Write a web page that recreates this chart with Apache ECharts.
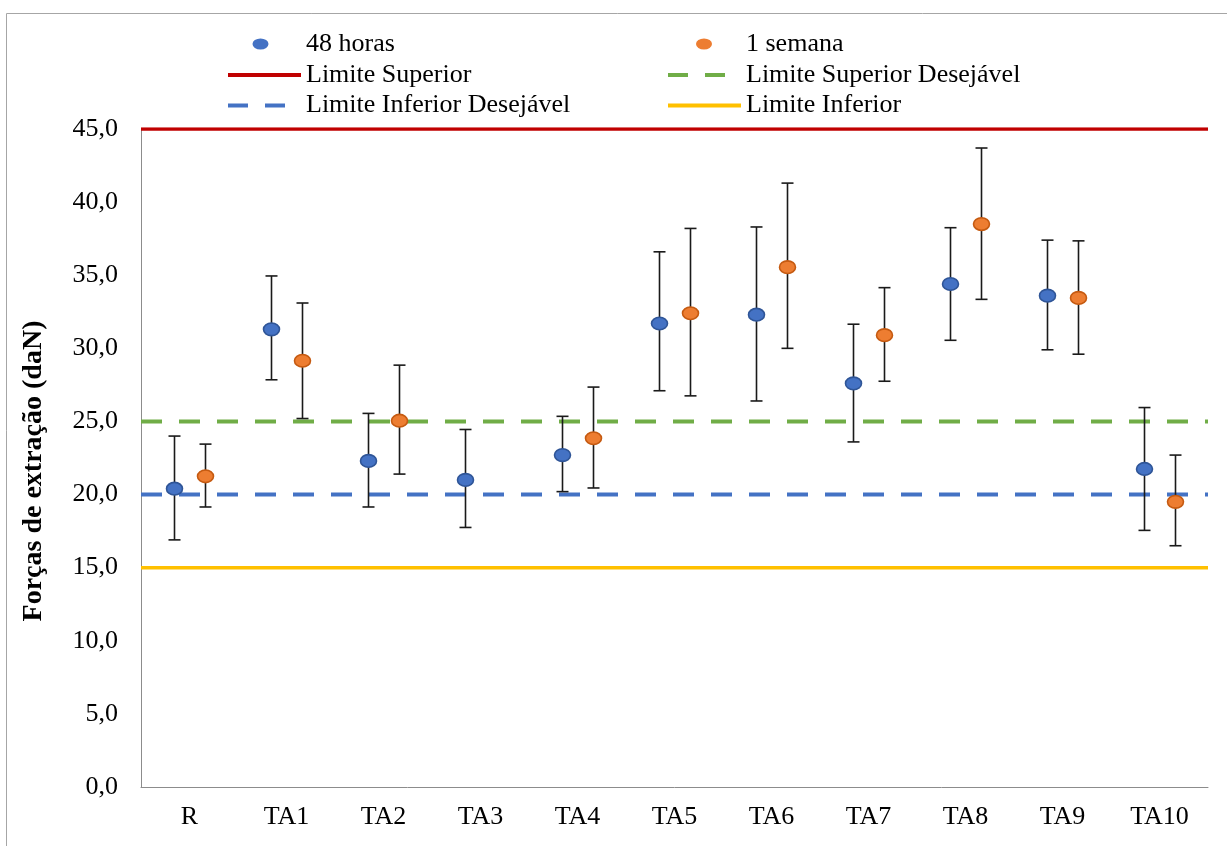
<!DOCTYPE html>
<html>
<head>
<meta charset="utf-8">
<script src="https://cdn.jsdelivr.net/npm/echarts@6/dist/echarts.min.js"></script>
<style>
  html, body { margin: 0; padding: 0; background: #fff; }
  #chart { width: 1227px; height: 846px; }
</style>
</head>
<body>
<div id="chart"></div>
<script>
// Categories (treatments)
var categories = ['R', 'TA1', 'TA2', 'TA3', 'TA4', 'TA5', 'TA6', 'TA7', 'TA8', 'TA9', 'TA10'];

// Extraction force after 48 hours (daN): mean, lower and upper error bounds
var mean48 = [20.4, 31.3, 22.3, 21.0, 22.7, 31.7, 32.3, 27.6, 34.4, 33.6, 21.75];
var low48  = [16.9, 27.85, 19.15, 17.75, 20.2, 27.1, 26.4, 23.6, 30.55, 29.9, 17.55];
var high48 = [24.0, 34.95, 25.55, 24.45, 25.35, 36.6, 38.3, 31.65, 38.25, 37.4, 25.95];

// Extraction force after 1 week (daN); TA3 has no measurement
var meanWeek = [21.25, 29.15, 25.05, null, 23.85, 32.4, 35.55, 30.9, 38.5, 33.45, 19.5];
var lowWeek  = [19.15, 25.2, 21.4, null, 20.45, 26.75, 30.0, 27.75, 33.35, 29.6, 16.5];
var highWeek = [23.45, 33.1, 28.85, null, 27.35, 38.2, 41.3, 34.15, 43.7, 37.35, 22.7];

// Reference limits (daN)
var limitSuperior = 45;
var limitSupDesejavel = 25;
var limitInfDesejavel = 20;
var limitInferior = 15;

// Y axis ticks
var yMin = 0, yMax = 45, yStep = 5;

var FONT = '"Liberation Serif", "Times New Roman", serif';

var BLUE = '#4472C4', BLUE_EDGE = '#2F5597';
var ORANGE = '#ED7D31', ORANGE_EDGE = '#C55A11';

function buildData(means, lows, highs) {
  var out = [];
  for (var i = 0; i < means.length; i++) {
    if (means[i] == null) continue;
    out.push([i, means[i], lows[i], highs[i]]);
  }
  return out;
}

// Draws a point with its vertical error bar, shifted inside the category band
function pointWithError(shiftFrac, fill, stroke) {
  return function (params, api) {
    var i = api.value(0);
    var band = api.size([1, 0])[0];
    var dx = band * shiftFrac;
    var c = api.coord([i, api.value(1)]);
    var lo = api.coord([i, api.value(2)]);
    var hi = api.coord([i, api.value(3)]);
    var x = Math.round(c[0] + dx) + 0.5;
    var cap = 6;
    var barStyle = { stroke: '#1a1a1a', lineWidth: 1.6 };
    return {
      type: 'group',
      children: [
        { type: 'line', shape: { x1: x, y1: lo[1], x2: x, y2: hi[1] }, style: barStyle },
        { type: 'line', shape: { x1: x - cap, y1: hi[1], x2: x + cap, y2: hi[1] }, style: barStyle },
        { type: 'line', shape: { x1: x - cap, y1: lo[1], x2: x + cap, y2: lo[1] }, style: barStyle },
        { type: 'ellipse', shape: { cx: x, cy: c[1], rx: 8, ry: 6.3 },
          style: { fill: fill, stroke: stroke, lineWidth: 1.6 } }
      ]
    };
  };
}

function limitLine(name, value, color, dashed) {
  return {
    name: name,
    type: 'line',
    xAxisIndex: 1,
    data: [[0, value], [1, value]],
    symbol: 'none',
    silent: true,
    lineStyle: { color: color, width: dashed ? 4 : 3.5, type: dashed ? [21, 17] : 'solid' },
    itemStyle: { color: color },
    z: 1
  };
}

// Legend icon shapes; the zero-area strokes at the ends only fix the icon box
var ICON_SOLID = 'path://M0,0h73v4h-73z';
var ICON_DASHED = 'path://M0,0h20v4h-20z M37,0h20v4h-20z M73,0L73,4';
function dotIcon(w) {
  var c = w / 2;
  return 'path://M' + (c - 8) + ',5.5a8,5.5 0 1,0 16,0a8,5.5 0 1,0 -16,0z M0,0L0,11 M' + w + ',0L' + w + ',11';
}

function legendAt(name, left, top, icon, width, height, color) {
  return {
    data: [{ name: name, icon: icon, itemStyle: { color: color, borderWidth: 0 } }],
    left: left,
    top: top,
    itemWidth: width,
    itemHeight: height,
    symbolKeepAspect: false,
    itemGap: 0,
    padding: 0,
    selectedMode: false,
    textStyle: { fontFamily: FONT, fontSize: 26, color: '#000' }
  };
}

var chart = echarts.init(document.getElementById('chart'), null, { renderer: 'canvas' });

var option = {
  animation: false,
  backgroundColor: '#fff',
  graphic: [{
    type: 'rect',
    shape: { x: 6.5, y: 13.5, width: 1240, height: 850 },
    style: { fill: 'none', stroke: '#a6a6a6', lineWidth: 1 },
    silent: true
  }],
  legend: [
    legendAt('48 horas', 220, 31, dotIcon(81), 81, 11, BLUE),
    legendAt('1 semana', 667, 31, dotIcon(74), 74, 11, ORANGE),
    legendAt('Limite Superior', 228, 62, ICON_SOLID, 73, 4, '#C00000'),
    legendAt('Limite Superior Desejável', 668, 62, ICON_DASHED, 73, 4, '#70AD47'),
    legendAt('Limite Inferior Desejável', 228, 92.5, ICON_DASHED, 73, 4, BLUE),
    legendAt('Limite Inferior', 668, 92.5, ICON_SOLID, 73, 4, '#FFC000')
  ],
  grid: { left: 141, right: 19, top: 129, bottom: 59, containLabel: false },
  xAxis: [{
    type: 'category',
    data: categories,
    boundaryGap: true,
    axisLine: { lineStyle: { color: '#8c8c8c', width: 1 } },
    axisTick: { show: false },
    axisLabel: { fontFamily: FONT, fontSize: 26, color: '#000', margin: 17 },
    splitLine: { show: false }
  }, {
    type: 'value',
    min: 0, max: 1,
    show: false
  }],
  yAxis: {
    type: 'value',
    min: yMin, max: yMax, interval: yStep,
    name: 'Forças de extração (daN)',
    nameLocation: 'middle',
    nameGap: 93,
    nameTextStyle: {
      fontFamily: FONT, fontSize: 28, fontWeight: 'bold', color: '#000',
      padding: [0, 26, 0, 0]
    },
    axisLine: { show: true, lineStyle: { color: '#8c8c8c', width: 1 } },
    axisTick: { show: false },
    splitLine: { show: false },
    axisLabel: {
      fontFamily: FONT, fontSize: 26, color: '#000', margin: 23,
      formatter: function (v) { return v.toFixed(1).replace('.', ','); }
    }
  },
  series: [
    limitLine('Limite Superior', limitSuperior, '#C00000', false),
    limitLine('Limite Superior Desejável', limitSupDesejavel, '#70AD47', true),
    limitLine('Limite Inferior Desejável', limitInfDesejavel, BLUE, true),
    limitLine('Limite Inferior', limitInferior, '#FFC000', false),
    {
      name: '48 horas',
      type: 'custom',
      xAxisIndex: 0,
      renderItem: pointWithError(-0.163, BLUE, BLUE_EDGE),
      itemStyle: { color: BLUE },
      encode: { x: 0, y: [1, 2, 3] },
      data: buildData(mean48, low48, high48),
      clip: false,
      z: 5
    },
    {
      name: '1 semana',
      type: 'custom',
      xAxisIndex: 0,
      renderItem: pointWithError(0.163, ORANGE, ORANGE_EDGE),
      itemStyle: { color: ORANGE },
      encode: { x: 0, y: [1, 2, 3] },
      data: buildData(meanWeek, lowWeek, highWeek),
      clip: false,
      z: 5
    }
  ]
};

chart.setOption(option);
</script>
</body>
</html>
